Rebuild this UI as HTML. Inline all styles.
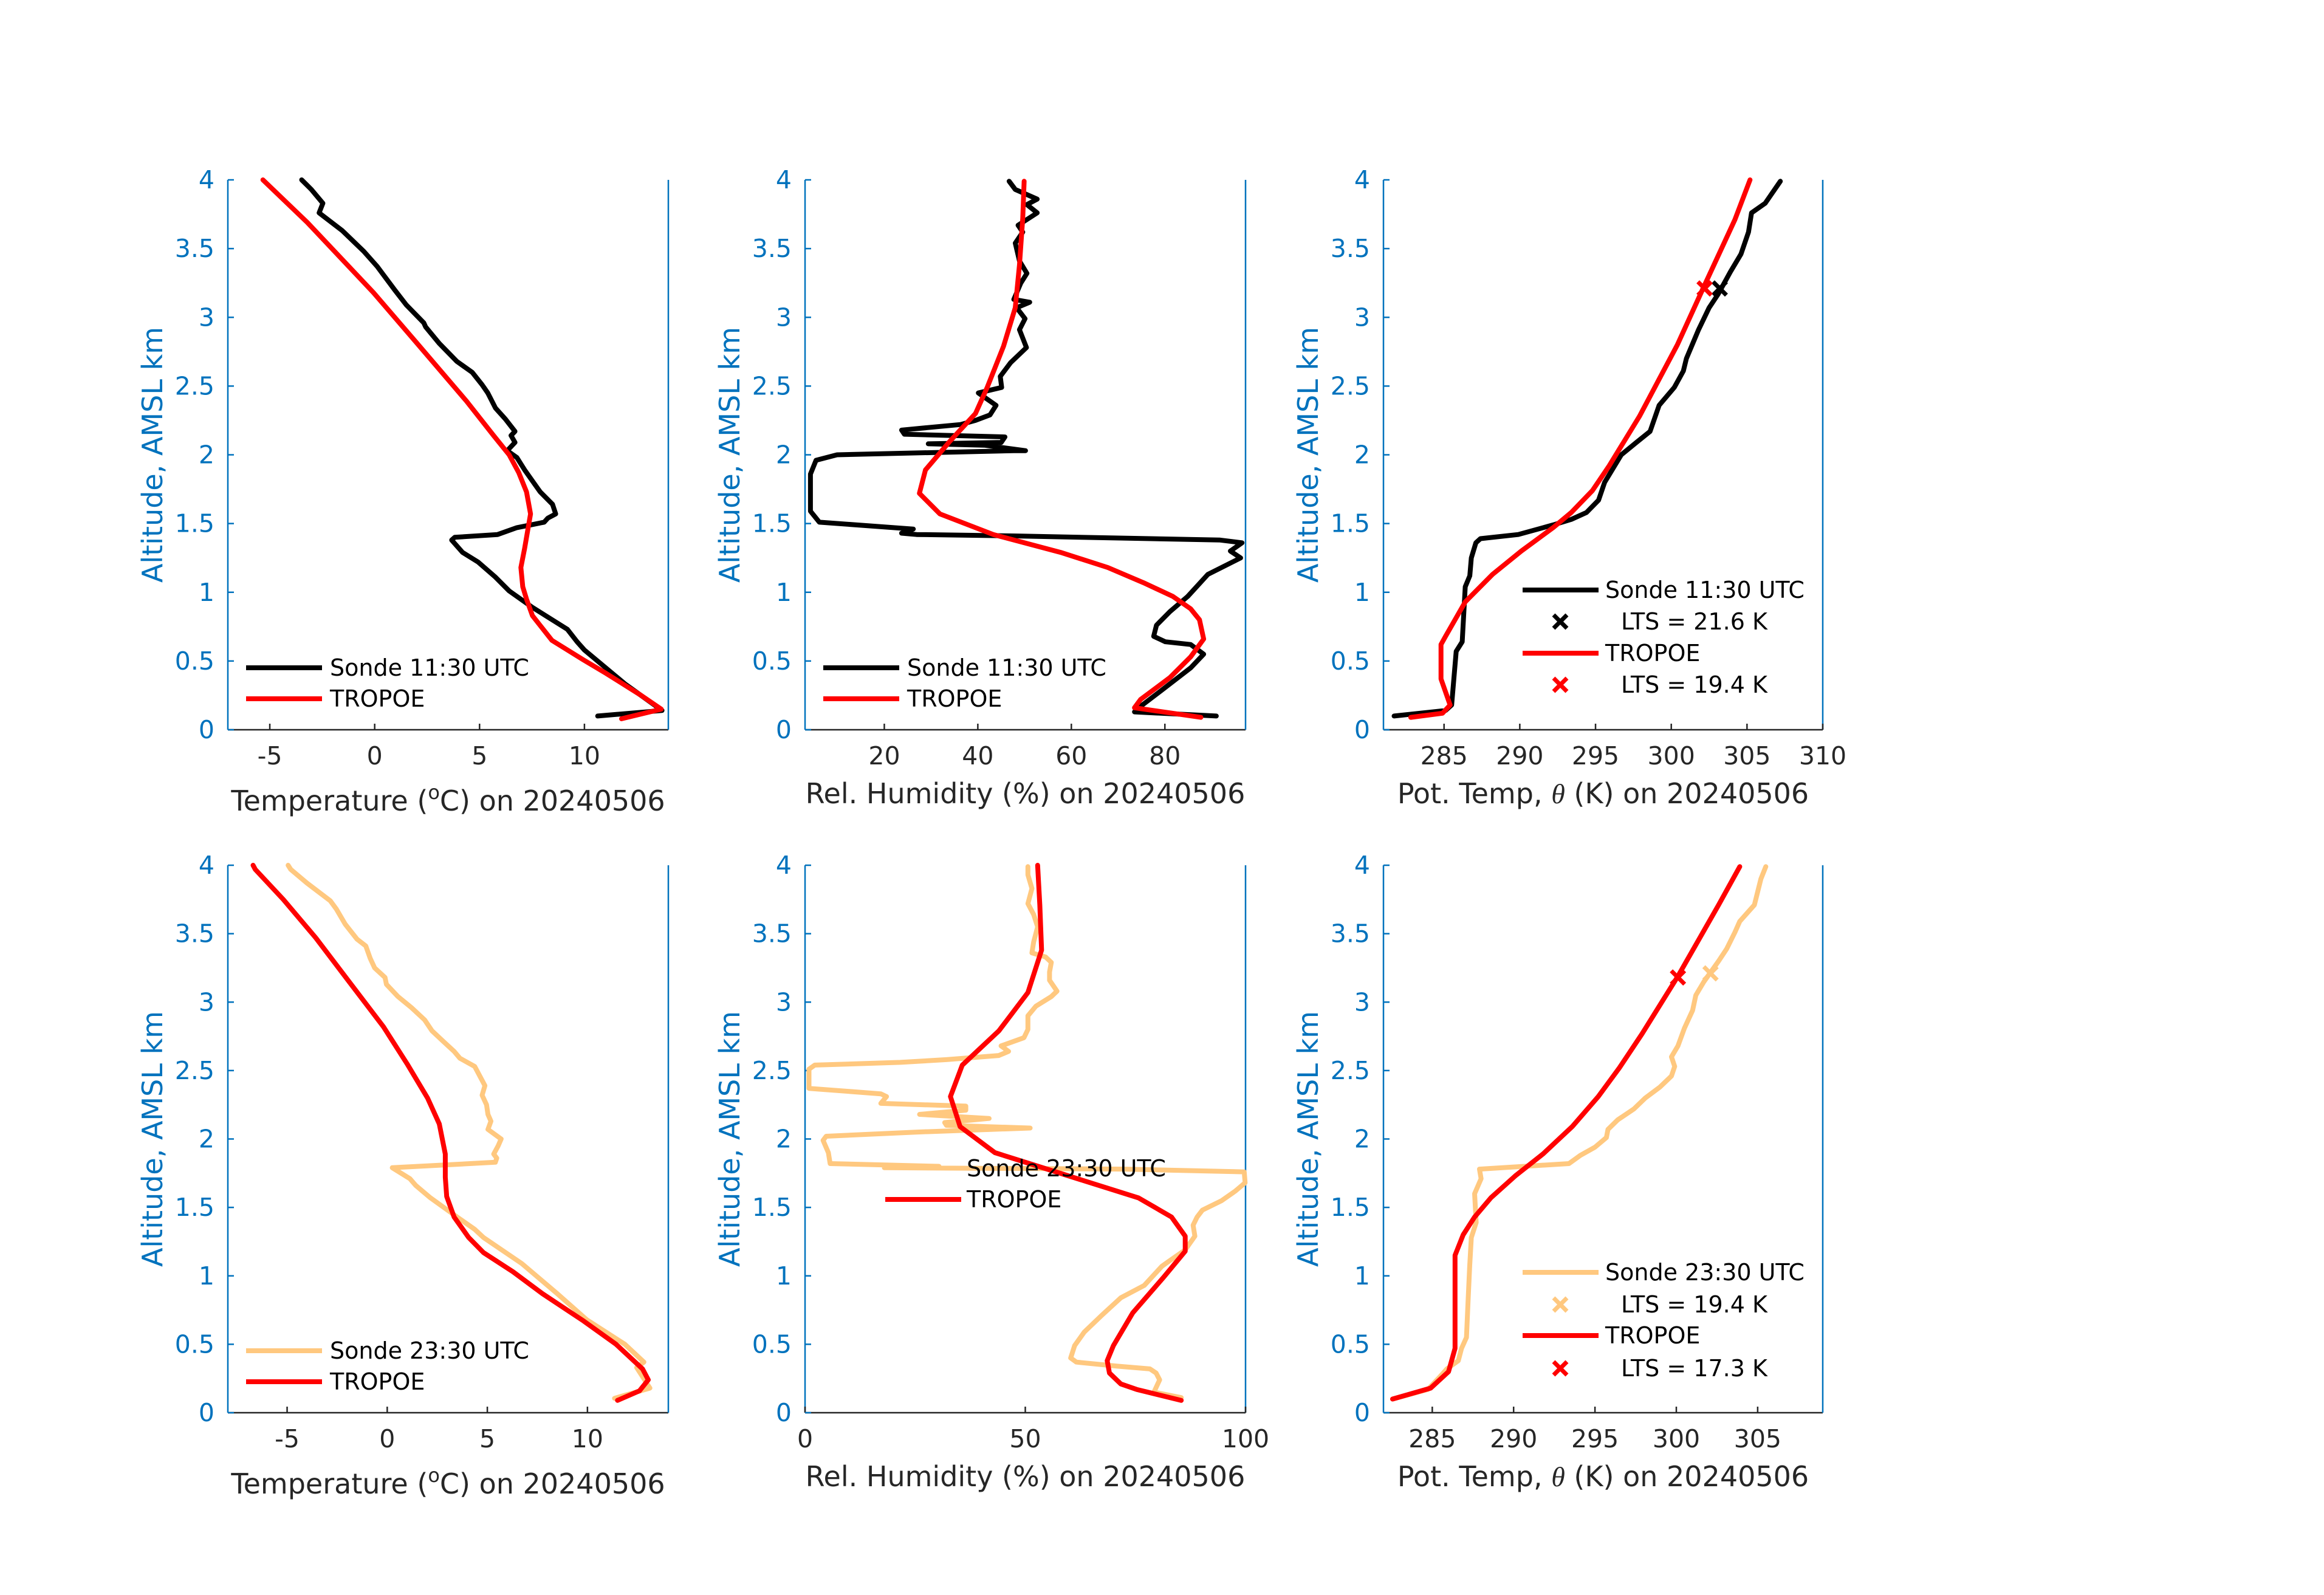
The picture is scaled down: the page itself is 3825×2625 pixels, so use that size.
<!DOCTYPE html>
<html><head><meta charset="utf-8"><style>
html,body{margin:0;padding:0;background:#fff;}
svg{display:block;font-family:"DejaVu Sans","Liberation Sans",sans-serif;}
</style></head><body>
<svg id="fig" xmlns="http://www.w3.org/2000/svg" width="3825" height="2625" viewBox="0 0 3825 2625">
<rect width="3825" height="2625" fill="#fff"/>
</svg>
<script>
// ---- Panel 1: Temperature 11:30 ----
const p1SondeT=[10.63,13.7,11.96,10.0,9.65,9.19,7.52,6.41,5.76,4.93,4.19,3.67,3.82,5.86,6.78,8.08,8.26,8.63,8.48,7.89,7.15,6.78,6.32,6.69,6.50,6.69,6.23,5.76,5.39,5.12,4.65,3.91,3.08,2.43,2.34,1.51,0.95,0.12,-0.52,-1.54,-2.65,-2.47,-3.02,-3.48];
const p1SondeZ=[0.10,0.14,0.33,0.58,0.64,0.73,0.89,1.01,1.11,1.22,1.29,1.38,1.40,1.42,1.47,1.51,1.54,1.57,1.64,1.73,1.89,1.98,2.03,2.09,2.14,2.17,2.26,2.34,2.45,2.51,2.60,2.68,2.81,2.93,2.96,3.09,3.20,3.37,3.48,3.63,3.76,3.83,3.93,4.0];
const p1TropT=[11.77,13.66,12.70,11.03,9.93,8.45,7.52,7.24,7.06,6.97,7.15,7.43,7.24,6.87,6.41,5.67,4.38,1.97,-0.06,-3.21,-5.33];
const p1TropZ=[0.08,0.15,0.25,0.41,0.51,0.65,0.83,0.95,1.04,1.18,1.32,1.57,1.73,1.87,2.0,2.14,2.39,2.82,3.18,3.69,4.0];
// ---- Panel 2: RH 11:30 ----
const p2SondeRH=[91.0,73.5,74.8,79.8,85.5,88.3,85.5,80.1,77.6,78.2,81.1,84.9,89.2,96.2,94.0,96.5,91.8,47.7,26.9,23.7,26.2,6.1,4.2,4.2,5.4,9.9,47.7,50.2,41.4,29.4,45.0,45.8,24.3,23.7,36.3,39.5,42.6,43.9,40.1,45.1,44.8,47.0,50.4,48.9,50.1,48.3,51.1,47.7,49.2,50.5,48.9,48.0,49.6,48.6,52.7,50.5,52.7,48.0,46.7];
const p2SondeZ=[0.10,0.13,0.17,0.30,0.45,0.55,0.62,0.64,0.68,0.76,0.86,0.97,1.13,1.25,1.30,1.36,1.38,1.41,1.42,1.43,1.46,1.51,1.59,1.86,1.96,2.00,2.03,2.03,2.07,2.08,2.09,2.13,2.15,2.18,2.22,2.25,2.29,2.36,2.45,2.49,2.57,2.67,2.78,2.91,2.99,3.07,3.11,3.13,3.25,3.32,3.41,3.54,3.62,3.67,3.76,3.82,3.86,3.93,3.99];
const p2TropRH=[87.7,73.5,74.8,81.1,85.5,88.3,87.4,85.5,81.7,75.4,67.8,57.7,43.3,31.9,27.5,28.8,33.8,39.5,42.0,45.5,48.0,48.9,49.6,49.9];
const p2TropZ=[0.09,0.16,0.22,0.38,0.53,0.66,0.80,0.88,0.97,1.07,1.18,1.29,1.42,1.57,1.72,1.89,2.09,2.30,2.49,2.79,3.07,3.38,3.72,3.99];
// ---- Panel 3: theta 11:30 ----
const p3SondeTh=[281.7,285.1,285.5,285.8,286.2,286.4,286.7,286.8,287.1,287.4,289.9,292.2,293.4,294.4,295.2,295.6,296.7,297.7,298.6,299.2,300.2,300.8,301.0,301.8,302.5,303.1,303.9,304.6,305.1,305.3,306.2,307.2];
const p3SondeZ=[0.10,0.14,0.18,0.57,0.64,1.04,1.12,1.25,1.36,1.39,1.42,1.49,1.53,1.58,1.67,1.80,2.00,2.09,2.17,2.36,2.49,2.61,2.70,2.91,3.07,3.17,3.33,3.46,3.62,3.76,3.83,3.99];
const p3TropTh=[282.8,284.9,285.4,284.8,284.8,285.1,286.4,288.2,290.1,292.2,293.4,294.8,295.9,297.9,300.4,302.1,304.2,305.2];
const p3TropZ=[0.09,0.12,0.18,0.37,0.62,0.68,0.93,1.13,1.30,1.47,1.58,1.74,1.92,2.28,2.80,3.21,3.71,4.0];
const p3LtsTh=[303.2,302.2];
const p3LtsZ=[3.21,3.21];
const p3LtsLabels=["LTS = 21.6 K","LTS = 19.4 K"];
// ---- Panel 4: Temperature 23:30 ----
const p4SondeT=[11.35,13.12,12.46,12.82,11.87,9.96,8.49,6.72,4.81,4.37,3.49,2.16,1.43,1.13,0.69,0.25,5.40,5.47,5.32,5.54,5.69,5.03,5.18,5.03,4.96,4.74,4.88,4.37,3.63,3.34,2.82,2.24,1.87,1.21,0.54,-0.04,-0.11,-0.63,-0.85,-1.07,-1.51,-2.10,-2.54,-2.84,-4.01,-4.82,-4.95];
const p4SondeZ=[0.105,0.18,0.33,0.37,0.50,0.68,0.87,1.09,1.28,1.34,1.43,1.57,1.66,1.71,1.75,1.79,1.83,1.86,1.89,1.95,2.0,2.07,2.13,2.18,2.25,2.32,2.39,2.53,2.59,2.64,2.71,2.79,2.87,2.96,3.04,3.13,3.18,3.25,3.32,3.41,3.46,3.57,3.68,3.74,3.87,3.97,4.0];
const p4TropT=[11.5,12.6,13.04,12.75,11.43,9.81,7.75,6.28,4.81,4.07,3.34,2.97,2.90,2.90,2.60,2.01,0.99,-0.19,-1.96,-3.57,-5.19,-6.59,-6.7];
const p4TropZ=[0.09,0.16,0.24,0.32,0.50,0.67,0.87,1.03,1.17,1.28,1.43,1.58,1.72,1.89,2.11,2.30,2.55,2.82,3.16,3.47,3.75,3.97,4.0];
// ---- Panel 5: RH 23:30 ----
const p5SondeRH=[85.4,79.2,80.5,79.7,78.3,70.9,61.6,60.3,61.2,63.4,67.3,71.7,77.0,81.0,82.3,86.3,88.5,88.1,89.0,90.2,94.6,97.7,99.9,99.7,72.6,18.0,30.4,5.7,5.3,4.1,4.8,25.1,51.1,32.1,31.7,41.8,26.0,36.5,36.5,17.2,18.5,17.2,0.9,0.9,2.2,21.6,32.1,44.0,46.2,44.5,49.7,50.6,50.6,52.4,55.9,57.2,55.5,55.5,55.9,54.6,51.5,51.9,52.8,51.9,50.6,51.5,50.6,50.6];
const p5SondeZ=[0.11,0.15,0.24,0.29,0.32,0.34,0.37,0.40,0.49,0.59,0.71,0.84,0.93,1.07,1.10,1.19,1.29,1.37,1.43,1.48,1.55,1.62,1.68,1.76,1.78,1.79,1.80,1.82,1.90,1.99,2.02,2.05,2.08,2.10,2.12,2.15,2.18,2.21,2.24,2.26,2.31,2.33,2.37,2.51,2.54,2.56,2.58,2.61,2.64,2.68,2.74,2.80,2.90,2.97,3.04,3.08,3.16,3.22,3.29,3.33,3.36,3.44,3.55,3.64,3.72,3.83,3.93,3.99];
const p5TropRH=[85.4,75.3,71.7,69.1,68.6,70.0,74.4,81.4,86.3,86.3,83.2,75.7,63.8,43.1,35.2,33.0,35.7,44.0,50.6,53.7,53.3,52.8];
const p5TropZ=[0.09,0.17,0.21,0.29,0.38,0.49,0.73,0.99,1.18,1.29,1.43,1.57,1.69,1.90,2.09,2.31,2.54,2.79,3.07,3.38,3.71,4.0];
// ---- Panel 6: theta 23:30 ----
const p6SondeTh=[282.56,284.73,285.45,285.9,286.6,286.8,287.1,287.2,287.3,287.4,287.7,287.6,288.0,287.9,293.4,294.1,295.0,295.7,295.8,296.4,297.4,298.1,299.0,299.7,299.9,299.7,300.1,300.5,301.0,301.2,301.7,302.6,303.1,303.6,303.9,304.8,305.2,305.5];
const p6SondeZ=[0.10,0.17,0.26,0.32,0.38,0.47,0.55,0.81,1.07,1.28,1.39,1.60,1.71,1.78,1.82,1.88,1.94,2.01,2.07,2.14,2.22,2.30,2.38,2.46,2.53,2.60,2.68,2.81,2.94,3.05,3.15,3.30,3.39,3.51,3.59,3.71,3.90,3.99];
const p6TropTh=[282.56,284.9,286.0,286.4,286.4,286.9,287.6,288.6,290.1,291.8,293.6,295.2,296.5,297.9,300.1,302.6,303.9];
const p6TropZ=[0.10,0.18,0.30,0.47,1.15,1.30,1.43,1.57,1.73,1.89,2.09,2.31,2.52,2.77,3.19,3.71,3.99];
const p6LtsTh=[302.1,300.1];
const p6LtsZ=[3.21,3.18];
const p6LtsLabels=["LTS = 19.4 K","LTS = 17.3 K"];
// ---- ticks ----
const yTicks=[0,0.5,1,1.5,2,2.5,3,3.5,4];
const yTickLabels=["0","0.5","1","1.5","2","2.5","3","3.5","4"];
const p1XTicks=[-5,0,5,10];
const p2XTicks=[20,40,60,80];
const p3XTicks=[285,290,295,300,305,310];
const p4XTicks=[-5,0,5,10];
const p5XTicks=[0,50,100];
const p6XTicks=[285,290,295,300,305];

const NS="http://www.w3.org/2000/svg";
const svg=document.getElementById('fig');
const BLUE="#0072BD", DARK="#262626", ORANGE="#FFC87F", RED="#FF0000";
function mk(tag,attrs,parent){const e=document.createElementNS(NS,tag);for(const k in attrs)e.setAttribute(k,attrs[k]);(parent||svg).appendChild(e);return e;}

function panel(id,x0,x1,y0,y1,xmin,xmax,xticks,labelParts,labelOff){
  const g=mk('g',{});
  
  
  const sx=v=>x0+(v-xmin)/(xmax-xmin)*(x1-x0);
  const sy=v=>y1-(v/4)*(y1-y0);
  const bx=mk('line',{x1:x0,y1:y1,x2:x1,y2:y1,stroke:DARK,'stroke-width':2.5},g);
  
  
  const ly=mk('line',{x1:x0,y1:y0,x2:x0,y2:y1,stroke:BLUE,'stroke-width':2.5},g);
  
  
  const ry=mk('line',{x1:x1,y1:y0,x2:x1,y2:y1,stroke:BLUE,'stroke-width':2.5},g);
  
  
  xticks.forEach(v=>{
    const x=sx(v);
    mk('line',{x1:x,y1:y1,x2:x,y2:y1-10,stroke:DARK,'stroke-width':2.5},g);
    const t=mk('text',{x:x,y:y1+57,'font-size':41,fill:DARK,'text-anchor':'middle'},g);
    t.textContent=String(v);
    
    
  });
  yTicks.forEach((v,i)=>{
    const y=sy(v);
    mk('line',{x1:x0,y1:y,x2:x0+10,y2:y,stroke:BLUE,'stroke-width':2.5},g);
    const t=mk('text',{x:x0-22,y:y+14,'font-size':41,fill:BLUE,'text-anchor':'end'},g);
    t.textContent=yTickLabels[i];
    
    
  });
  const yl=mk('text',{x:0,y:0,'font-size':46,fill:BLUE,'text-anchor':'middle',transform:`translate(${x0-108},${(y0+y1)/2}) rotate(-90)`},g);
  yl.textContent='Altitude, AMSL km';
  
  
  const xl=mk('text',{x:(x0+x1)/2,y:y1+labelOff,'font-size':46,fill:DARK,'text-anchor':'middle'},g);
  
  
  labelParts.forEach(p=>{const ts=mk('tspan',p.a||{},xl);ts.textContent=p.t;});
  return {g,sx,sy};
}
function line(P,xs,zs,color,name){
  const d=xs.map((v,i)=>(i?'L':'M')+P.sx(v).toFixed(1)+' '+P.sy(zs[i]).toFixed(1)).join(' ');
  const p=mk('path',{d:d,fill:'none',stroke:color,'stroke-width':8,'stroke-linejoin':'round','stroke-linecap':'round'},P.g);
  
  
}
function xmark(g,x,y,color,name){
  const m=mk('path',{d:`M${x-11} ${y-11}L${x+11} ${y+11}M${x-11} ${y+11}L${x+11} ${y-11}`,stroke:color,'stroke-width':7},g);
  
  
}
function legText(g,x,y,txt){
  const t=mk('text',{x:x,y:y+13,'font-size':38,fill:'#000'},g);
  t.textContent=txt;
  
  
}
function legLine(g,x,y,color,name){
  const l=mk('line',{x1:x,y1:y,x2:x+125,y2:y,stroke:color,'stroke-width':8},g);
  
  
}
const tempLabel=[{t:'Temperature ('},{t:'o',a:{'baseline-shift':'super','font-size':32}},{t:'C) on 20240506'}];
const rhLabel=[{t:'Rel. Humidity (%) on 20240506'}];
const thLabel=[{t:'Pot. Temp, '},{t:'θ',a:{'font-style':'italic','font-family':'"Liberation Serif",serif'}},{t:' (K) on 20240506'}];

const C1=[375,1100],C2=[1325,2050],C3=[2277,3000],R1=[296,1201],R2=[1424,2325];

let P=panel('temp-panel-1130',C1[0],C1[1],R1[0],R1[1],-7,14,p1XTicks,tempLabel,133);
line(P,p1SondeT,p1SondeZ,'#000','sonde-1130-line');
line(P,p1TropT,p1TropZ,RED,'tropoe-line');
legLine(P.g,405,1099,'#000','legend-sonde-line');legText(P.g,543,1099,'Sonde 11:30 UTC');
legLine(P.g,405,1150,RED,'legend-tropoe-line');legText(P.g,543,1150,'TROPOE');

P=panel('rh-panel-1130',C2[0],C2[1],R1[0],R1[1],3.05,97.25,p2XTicks,rhLabel,121);
line(P,p2SondeRH,p2SondeZ,'#000','sonde-1130-line');
line(P,p2TropRH,p2TropZ,RED,'tropoe-line');
legLine(P.g,1355,1099,'#000','legend-sonde-line');legText(P.g,1493,1099,'Sonde 11:30 UTC');
legLine(P.g,1355,1150,RED,'legend-tropoe-line');legText(P.g,1493,1150,'TROPOE');

P=panel('theta-panel-1130',C3[0],C3[1],R1[0],R1[1],281,310,p3XTicks,thLabel,121);
line(P,p3SondeTh,p3SondeZ,'#000','sonde-1130-line');
line(P,p3TropTh,p3TropZ,RED,'tropoe-line');
xmark(P.g,P.sx(p3LtsTh[0]),P.sy(p3LtsZ[0]),'#000','lts-marker-sonde');
xmark(P.g,P.sx(p3LtsTh[1]),P.sy(p3LtsZ[1]),RED,'lts-marker-tropoe');
legLine(P.g,2506,971,'#000','legend-sonde-line');legText(P.g,2642,971,'Sonde 11:30 UTC');
xmark(P.g,2568,1023,'#000','legend-lts-marker');legText(P.g,2668,1023,'  '+p3LtsLabels[0]);
legLine(P.g,2506,1075,RED,'legend-tropoe-line');legText(P.g,2642,1075,'TROPOE');
xmark(P.g,2568,1127,RED,'legend-lts-marker');legText(P.g,2668,1127,'  '+p3LtsLabels[1]);

P=panel('temp-panel-2330',C1[0],C1[1],R2[0],R2[1],-7.96,14.04,p4XTicks,tempLabel,133);
line(P,p4SondeT,p4SondeZ,ORANGE,'sonde-2330-line');
line(P,p4TropT,p4TropZ,RED,'tropoe-line');
legLine(P.g,405,2223,ORANGE,'legend-sonde-line');legText(P.g,543,2223,'Sonde 23:30 UTC');
legLine(P.g,405,2274,RED,'legend-tropoe-line');legText(P.g,543,2274,'TROPOE');

P=panel('rh-panel-2330',C2[0],C2[1],R2[0],R2[1],0,100,p5XTicks,rhLabel,121);
line(P,p5SondeRH,p5SondeZ,ORANGE,'sonde-2330-line');
line(P,p5TropRH,p5TropZ,RED,'tropoe-line');
legText(P.g,1591,1923,'Sonde 23:30 UTC');
legLine(P.g,1457,1974,RED,'legend-tropoe-line');legText(P.g,1591,1974,'TROPOE');

P=panel('theta-panel-2330',C3[0],C3[1],R2[0],R2[1],282,309,p6XTicks,thLabel,121);
line(P,p6SondeTh,p6SondeZ,ORANGE,'sonde-2330-line');
line(P,p6TropTh,p6TropZ,RED,'tropoe-line');
xmark(P.g,P.sx(p6LtsTh[0]),P.sy(p6LtsZ[0]),ORANGE,'lts-marker-sonde');
xmark(P.g,P.sx(p6LtsTh[1]),P.sy(p6LtsZ[1]),RED,'lts-marker-tropoe');
legLine(P.g,2506,2094,ORANGE,'legend-sonde-line');legText(P.g,2642,2094,'Sonde 23:30 UTC');
xmark(P.g,2568,2147,ORANGE,'legend-lts-marker');legText(P.g,2668,2147,'  '+p6LtsLabels[0]);
legLine(P.g,2506,2198,RED,'legend-tropoe-line');legText(P.g,2642,2198,'TROPOE');
xmark(P.g,2568,2252,RED,'legend-lts-marker');legText(P.g,2668,2252,'  '+p6LtsLabels[1]);
</script>
</body></html>
